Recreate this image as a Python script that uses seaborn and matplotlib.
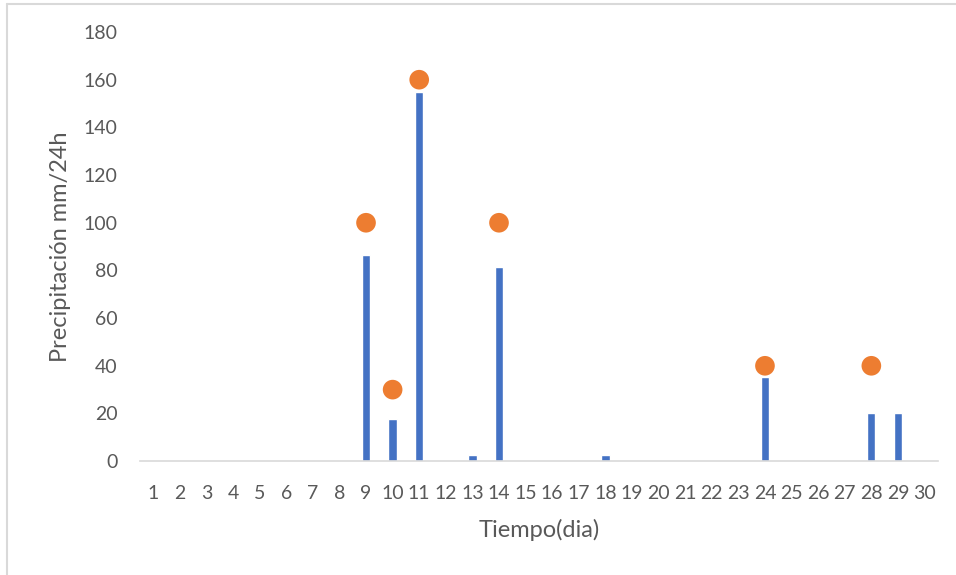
import matplotlib
matplotlib.use("Agg")
import matplotlib.pyplot as plt
import seaborn as sns
import pandas as pd
from matplotlib.lines import Line2D

# Daily rainfall (mm/24h) over 30 days
days = list(range(1, 31))
rain = [0, 0, 0, 0, 0, 0, 0, 0, 86.5, 17.5, 154.7, 0, 2.5, 81.5, 0,
        0, 0, 2.5, 0, 0, 0, 0, 0, 35.2, 0, 0, 0, 20.2, 20.2, 0]

# Highlighted days and their marker values
peak_days = [9, 10, 11, 14, 24, 28]
peak_vals = [100, 30, 160, 100, 40, 40]

sns.set_theme(style="white")
plt.rcParams["font.family"] = ["Lato", "DejaVu Sans"]

text_col = "#595959"
df = pd.DataFrame({"dia": [str(d) for d in days], "lluvia": rain})
pk = pd.DataFrame({"pos": [days.index(d) for d in peak_days], "valor": peak_vals})

fig = plt.figure(figsize=(9.56, 5.75), dpi=100)
ax = fig.add_axes([0.1464, 0.198, 0.8346, 0.7463])

sns.barplot(data=df, x="dia", y="lluvia", color="#4472C4", saturation=1,
            width=0.31, ax=ax)
sns.scatterplot(data=pk, x="pos", y="valor", color="#ED7D31", s=200,
                edgecolor="none", ax=ax, zorder=3)

ax.set_xlim(-0.5, 29.5)
ax.set_ylim(0, 180)
ax.set_yticks(range(0, 181, 20))
ax.tick_params(axis="both", length=0, colors=text_col, labelsize=14)
ax.tick_params(axis="x", pad=17)
ax.tick_params(axis="y", pad=16)
for s in ["top", "right", "left"]:
    ax.spines[s].set_visible(False)
ax.spines["bottom"].set_color("#D9D9D9")
ax.spines["bottom"].set_linewidth(1.2)

ax.set_xlabel("Tiempo(dia)", fontsize=17, color=text_col, labelpad=12)
ax.set_ylabel("Precipitación mm/24h", fontsize=17, color=text_col, labelpad=9)

# Light frame around the chart area
fig.add_artist(Line2D([0.0078, 0.0078], [0, 0.993], transform=fig.transFigure,
                      color="#D9D9D9", lw=1.5))
fig.add_artist(Line2D([0.0078, 1.0], [0.993, 0.993], transform=fig.transFigure,
                      color="#D9D9D9", lw=1.5))

fig.savefig("out.png", dpi=100)
